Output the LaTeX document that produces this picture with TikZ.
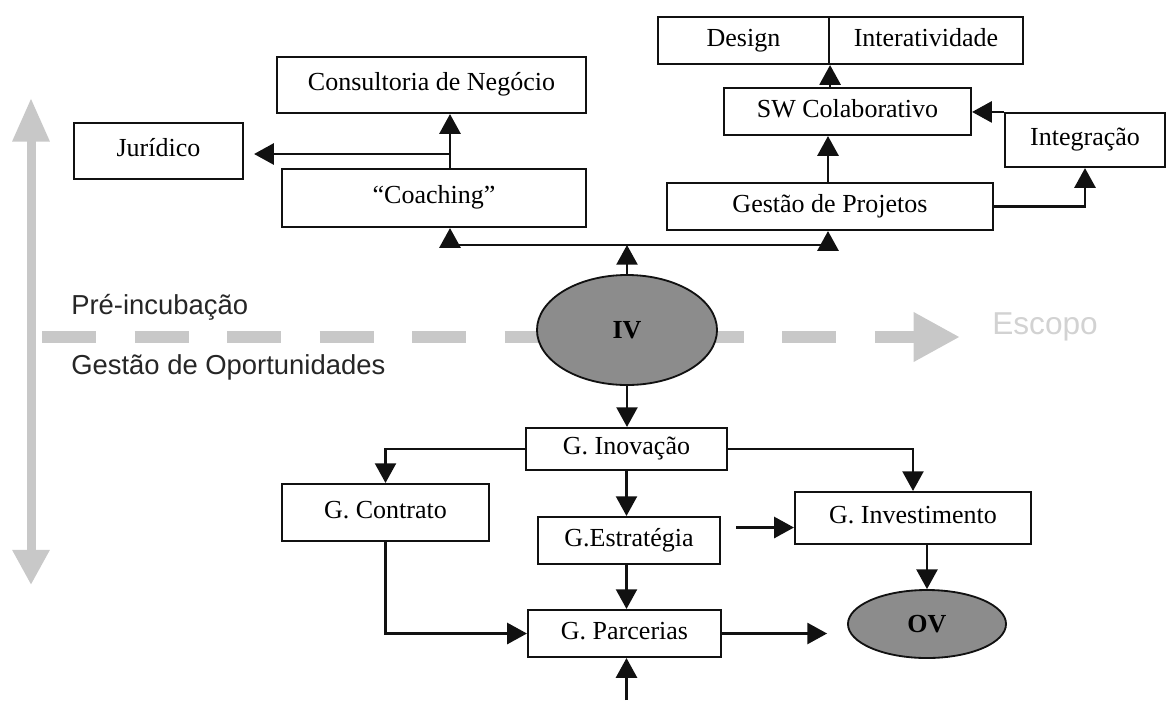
\documentclass[tikz,border=0pt]{standalone}
\usepackage{fontspec}
\setmainfont{Liberation Serif}
\setsansfont{Liberation Sans}
\usetikzlibrary{calc,arrows.meta,shapes.geometric}
\definecolor{ink}{HTML}{111111}
\definecolor{shade}{HTML}{8C8C8C}
\definecolor{faint}{HTML}{C8C8C8}
\definecolor{pale}{HTML}{D2D2D2}
\definecolor{phase}{HTML}{262626}
\tikzset{
  box/.style={draw=ink, line width=1.5pt, inner sep=0pt, text height=12.5pt, text depth=4pt, font=\fontsize{18.5}{20}\selectfont},
  oval/.style={ellipse, draw=ink, fill=shade, line width=1.3pt, inner sep=0pt, font=\fontsize{18.5}{20}\selectfont\bfseries},
  link/.style={draw=ink, line width=1.5pt, -{Triangle[length=14pt,width=15pt]}},
  wire/.style={draw=ink, line width=1.5pt},
  axis/.style={draw=faint, line width=6.4pt, {Triangle[length=31pt,width=25pt]}-{Triangle[length=25pt,width=25pt]}},
  span/.style={draw=faint, line width=9.2pt, dash pattern=on 38.4pt off 27.4pt, -{Triangle[length=33pt,width=33pt]}},
  phase/.style={text=phase, font=\sffamily\fontsize{19.5}{22}\selectfont, anchor=west, inner sep=0pt}
}

\begin{document}
\begin{tikzpicture}[x=0.025cm, y=-0.025cm]
  \useasboundingbox (0,0) rectangle (1171,700);

  % grey axes
  \draw[axis] (31,98) -- (31,585);
  \draw[span] (42,337) -- (960,337);
  \node[phase] (pre) at (71,307) {Pré-incubação};
  \node[phase] (gop) at (71,367) {Gestão de Oportunidades};
  \node[phase, text=pale, font=\sffamily\fontsize{22.5}{24}\selectfont] (esc) at (992,327) {Escopo};

  % pre-incubation
  \node[box, minimum width=7.725cm, minimum height=1.4cm] (cons) at (431.5,85) {Consultoria de Negócio};
  \node[box, minimum width=4.225cm, minimum height=1.4cm] (jur) at (158.5,151) {Jurídico};
  \node[box, minimum width=7.6cm, minimum height=1.45cm] (coach) at (434,198) {“Coaching”};
  \node[box, minimum width=4.275cm, minimum height=1.175cm] (design) at (743.5,40.5) {Design};
  \node[box, minimum width=4.85cm, minimum height=1.175cm] (inter) at (926,40.5) {Interatividade};
  \node[box, minimum width=6.175cm, minimum height=1.175cm] (sw) at (847.5,111.5) {SW Colaborativo};
  \node[box, minimum width=4cm, minimum height=1.35cm] (integ) at (1085,140) {Integração};
  \node[box, minimum width=8.15cm, minimum height=1.175cm] (gp) at (830,206.5) {Gestão de Projetos};
  \node[oval, minimum width=4.5cm, minimum height=2.75cm] (iv) at (627,330) {IV};

  \coordinate (fork) at (450,154);
  \coordinate (busl) at (450,245);
  \coordinate (busm) at (627,245);
  \coordinate (busr) at (828,245);

  \draw[link] (coach.north -| fork) -- (cons.south -| fork);
  \draw[link] (fork) -- ($(jur.east |- fork)+(10,0)$);
  \draw[wire] (busl) -- (busr);
  \draw[link] (iv.north) -- (busm);
  \draw[link] (busl) -- (coach.south -| busl);
  \draw[link] (busr) -- (gp.south -| busr);
  \draw[link] (gp.north -| busr) -- (sw.south -| busr);
  \draw[link] (sw.north -| design.south east) -- (design.south east);
  \draw[link] (gp.east) -| (integ.south);
  \draw[link] (integ.north west) -- (sw.east |- integ.north west);

  % opportunity management
  \node[box, minimum width=5.025cm, minimum height=1.05cm] (inov) at (626.5,449) {G. Inovação};
  \node[box, minimum width=5.175cm, minimum height=1.425cm] (contr) at (385.5,512.5) {G. Contrato};
  \node[box, minimum width=4.55cm, minimum height=1.175cm] (estr) at (629,540.5) {G.Estratégia};
  \node[box, minimum width=5.9cm, minimum height=1.3cm] (inv) at (913,518) {G. Investimento};
  \node[box, minimum width=4.825cm, minimum height=1.175cm] (parc) at (624.5,633.5) {G. Parcerias};
  \node[oval, minimum width=3.95cm, minimum height=1.7cm] (ov) at (927,624) {OV};

  \coordinate (tap) at ($(estr.east)+(15,-13)$);
  \coordinate (ovin) at ($(ov.west |- parc.east)+(-20,0)$);
  \coordinate (root) at (626.5,700);

  \draw[link] (iv.south) -- (iv.south |- inov.north);
  \draw[link] (inov.west) -| (contr.north);
  \draw[link] (inov.east) -| (inv.north);
  \draw[link] (inov.south) -- (inov.south |- estr.north);
  \draw[link] (inov.south |- estr.south) -- (inov.south |- parc.north);
  \draw[link] (contr.south) |- (parc.west);
  \draw[link] (tap) -- (inv.west |- tap);
  \draw[link] (inv.south -| ov.north) -- (ov.north);
  \draw[link] (parc.east) -- (ovin);
  \draw[link] (root) -- (root |- parc.south);
\end{tikzpicture}
\end{document}
